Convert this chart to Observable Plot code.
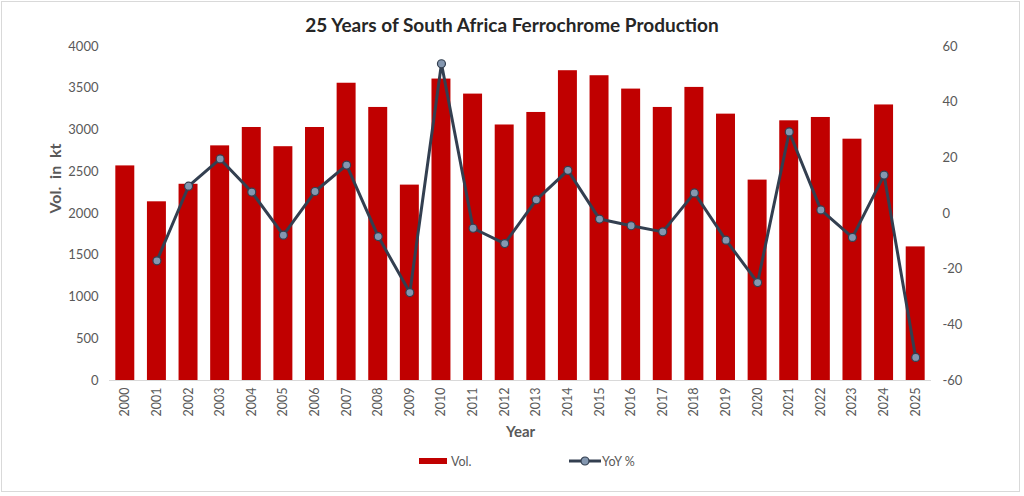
<!DOCTYPE html>
<html>
<head>
<meta charset="utf-8">
<script src="https://cdn.jsdelivr.net/npm/d3@7"></script>
<script src="https://cdn.jsdelivr.net/npm/@observablehq/plot@0.6"></script>
<style>
  html, body { margin: 0; padding: 0; background: #fff; }
  #wrap { position: relative; width: 1024px; height: 496px; overflow: hidden; font-family: Lato, "Open Sans", sans-serif; }
  #frame { position: absolute; left: 1px; top: 1px; width: 1019px; height: 491px; border: 1px solid #d9d9d9; box-sizing: border-box; }
  #title { position: absolute; left: 0; top: 12px; width: 1024px; text-align: center; font-weight: bold; font-size: 19px; color: #262626; line-height: 26px; }
  #chart { position: absolute; left: 0; top: 36px; }
  #legend { position: absolute; left: 0; top: 452px; width: 1024px; height: 18px; font-size: 12.5px; color: #595959; }
  .lg { position: absolute; top: 0; display: flex; align-items: center; height: 18px; }
</style>
</head>
<body>
<div id="wrap">
  <div id="frame"></div>
  <div id="title"></div>
  <div id="chart"></div>
  <div id="legend"></div>
</div>
<script>
const titleText = "25 Years of South Africa Ferrochrome Production";
const years = ["2000","2001","2002","2003","2004","2005","2006","2007","2008","2009","2010","2011","2012","2013","2014","2015","2016","2017","2018","2019","2020","2021","2022","2023","2024","2025"];
const volume = [2570,2140,2350,2810,3030,2800,3030,3560,3270,2340,3610,3430,3060,3210,3710,3650,3490,3270,3510,3190,2400,3110,3150,2890,3300,1600];
const yoy = [null,-17.0,9.8,19.6,7.7,-7.8,7.9,17.4,-8.3,-28.4,53.8,-5.3,-10.8,4.9,15.5,-2.0,-4.4,-6.6,7.4,-9.6,-24.8,29.3,1.3,-8.6,13.8,-51.7];
const volTicks = [0,500,1000,1500,2000,2500,3000,3500,4000];
const yoyTicks = [-60,-40,-20,0,20,40,60];
const volLabel = "Vol.  in  kt";
const xLabel = "Year";
const seriesNames = ["Vol.", "YoY %"];

const volMax = 4000, yoyMin = -60, yoyMax = 60;
const toVol = v => (v - yoyMin) / (yoyMax - yoyMin) * volMax;
const fromVol = v => v / volMax * (yoyMax - yoyMin) + yoyMin;

const barData = years.map((y, i) => ({year: y, vol: volume[i]}));
const lineData = years.map((y, i) => ({year: y, yoy: yoy[i]})).filter(d => d.yoy != null);

document.getElementById("title").textContent = titleText;

const chart = Plot.plot({
  width: 1024,
  height: 409,
  marginTop: 10,
  marginBottom: 65,
  marginLeft: 109,
  marginRight: 93,
  style: {fontFamily: "Lato, 'Open Sans', sans-serif", fontSize: "13px", color: "#595959", background: "transparent"},
  x: {domain: years, paddingInner: 0.4, paddingOuter: 0.2, round: false, label: null},
  y: {domain: [0, volMax], label: null},
  marks: [
    Plot.barY(barData, {x: "year", y: "vol", fill: "#C00000"}),
    Plot.ruleY([0], {stroke: "#d9d9d9", strokeWidth: 1}),
    Plot.line(lineData, {x: "year", y: d => toVol(d.yoy), stroke: "#333F50", strokeWidth: 3, curve: "linear"}),
    Plot.dot(lineData, {x: "year", y: d => toVol(d.yoy), r: 4, fill: "#8497B0", stroke: "#333F50", strokeWidth: 1.2}),
    Plot.axisY({ticks: volTicks, tickFormat: d => String(d), tickSize: 0, tickPadding: 11, label: null, fontSize: 13}),
    Plot.axisY({anchor: "right", ticks: yoyTicks.map(toVol), tickFormat: v => String(Math.round(fromVol(v))), tickSize: 0, tickPadding: 11, label: null, fontSize: 13}),
    Plot.axisX({tickRotate: -90, tickSize: 0, tickPadding: 7, label: null, fontSize: 12.5}),
    Plot.text([volLabel], {frameAnchor: "left", dx: -54, rotate: -90, fontWeight: "bold", fontSize: 16, fill: "#595959", lineAnchor: "middle"}),
    Plot.text([xLabel], {frameAnchor: "bottom", dy: 52, fontWeight: "bold", fontSize: 15, fill: "#595959", lineAnchor: "middle"})
  ]
});
document.getElementById("chart").appendChild(chart);

const legend = document.getElementById("legend");
legend.innerHTML = `
  <div class="lg" style="left:419px"><svg width="28" height="18"><rect x="0" y="6" width="28" height="6" fill="#C00000"></rect></svg><span style="margin-left:4px">${seriesNames[0]}</span></div>
  <div class="lg" style="left:569px"><svg width="32" height="18"><line x1="0" y1="9" x2="32" y2="9" stroke="#333F50" stroke-width="3"></line><circle cx="16" cy="9" r="4" fill="#8497B0" stroke="#333F50" stroke-width="1.2"></circle></svg><span style="margin-left:1px">${seriesNames[1]}</span></div>
`;
</script>
</body>
</html>
